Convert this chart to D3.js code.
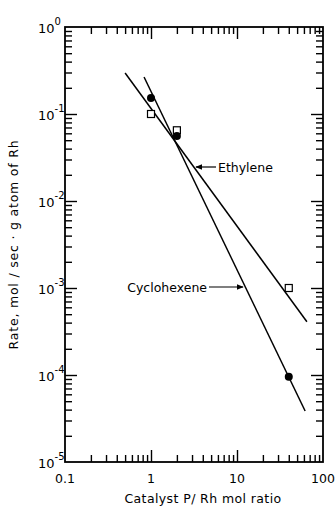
<!DOCTYPE html>
<html>
<head>
<meta charset="utf-8">
<script src="https://cdn.jsdelivr.net/npm/d3@7"></script>
<style>
  body { margin: 0; background: #fff; }
  svg { display: block; font-family: 'DejaVu Sans', sans-serif; }
</style>
</head>
<body>
<div id="chart"></div>
<script>
// data
const ratioCyclohexene = [1, 2, 40];
const rateCyclohexene = [0.153, 0.056, 0.0000955];
const ratioEthylene = [1, 2, 40];
const rateEthylene = [0.1, 0.065, 0.001];
// fitted lines (end points)
const lineEthyleneX = [0.5, 65];
const lineEthyleneY = [0.296, 0.00041];
const lineCyclohexeneX = [0.83, 62];
const lineCyclohexeneY = [0.266, 0.0000386];
const xDecades = [0.1, 1, 10, 100];
const xTickLabels = ['0.1', '1', '10', '100'];
const yDecades = [1, 0.1, 0.01, 0.001, 0.0001, 0.00001];
const yExponents = ['0', '-1', '-2', '-3', '-4', '-5'];

const width = 336, height = 510;
const plotL = 65, plotR = 323, plotT = 27, plotB = 462;

const svg = d3.select('#chart').append('svg').attr('width', width).attr('height', height);
const x = d3.scaleLog().domain([0.1, 100]).range([plotL, plotR]);
const y = d3.scaleLog().domain([0.00001, 1]).range([plotB, plotT]);

const minorX = [];
for (let d = 0; d < 3; d += 1) for (let k = 2; k <= 9; k += 1) minorX.push(k * Math.pow(10, d - 1));
const minorY = [];
for (let d = 0; d < 5; d += 1) for (let k = 2; k <= 9; k += 1) minorY.push(k * Math.pow(10, d - 5));
const innerX = xDecades.slice(1, 3);
const innerY = yDecades.slice(1, 5);

function addAxis(axis, tx, ty) {
  const g = svg.append('g').attr('transform', 'translate(' + tx + ',' + ty + ')').call(axis);
  g.select('.domain').remove();
  g.selectAll('text').remove();
  g.selectAll('line').attr('stroke', '#000').attr('stroke-width', 1.4);
}
// inward ticks on all four sides
addAxis(d3.axisBottom(x).tickValues(minorX).tickSize(-7), 0, plotB);
addAxis(d3.axisBottom(x).tickValues(innerX).tickSize(-12), 0, plotB);
addAxis(d3.axisTop(x).tickValues(minorX).tickSize(-7), 0, plotT);
addAxis(d3.axisTop(x).tickValues(innerX).tickSize(-12), 0, plotT);
addAxis(d3.axisLeft(y).tickValues(minorY).tickSize(-7), plotL, 0);
addAxis(d3.axisLeft(y).tickValues(innerY).tickSize(-12), plotL, 0);
addAxis(d3.axisRight(y).tickValues(minorY).tickSize(-7), plotR, 0);
addAxis(d3.axisRight(y).tickValues(innerY).tickSize(-12), plotR, 0);

svg.append('rect').attr('x', plotL).attr('y', plotT).attr('width', plotR - plotL).attr('height', plotB - plotT)
  .attr('fill', 'none').attr('stroke', '#000').attr('stroke-width', 1.8);

// tick labels
svg.selectAll('.xl').data(xDecades).enter().append('text')
  .attr('x', d => x(d)).attr('y', plotB + 21).attr('text-anchor', 'middle')
  .attr('font-size', 12.5).text((d, i) => xTickLabels[i]);
const yl = svg.selectAll('.yl').data(yDecades).enter().append('text')
  .attr('x', 38).attr('y', d => y(d) + 6).attr('font-size', 13);
yl.append('tspan').text('10');
yl.append('tspan').attr('dy', -8).attr('font-size', 10).text((d, i) => yExponents[i]);

// axis titles
svg.append('text').attr('x', 203).attr('y', 503).attr('text-anchor', 'middle').attr('font-size', 12.5)
  .attr('letter-spacing', 0.4).text('Catalyst P/ Rh mol ratio');
svg.append('text').attr('transform', 'translate(18,' + ((plotT + plotB) / 2) + ') rotate(-90)')
  .attr('text-anchor', 'middle').attr('font-size', 12.5).attr('letter-spacing', 0.8)
  .text('Rate, mol / sec · g atom of Rh');

// fitted lines
const line = d3.line().x(d => x(d[0])).y(d => y(d[1]));
svg.append('path').attr('d', line(d3.zip(lineEthyleneX, lineEthyleneY)))
  .attr('fill', 'none').attr('stroke', '#000').attr('stroke-width', 1.5);
svg.append('path').attr('d', line(d3.zip(lineCyclohexeneX, lineCyclohexeneY)))
  .attr('fill', 'none').attr('stroke', '#000').attr('stroke-width', 1.5);

// markers
svg.selectAll('.sq').data(d3.zip(ratioEthylene, rateEthylene)).enter().append('rect')
  .attr('x', d => x(d[0]) - 3.5).attr('y', d => y(d[1]) - 3.5).attr('width', 7).attr('height', 7)
  .attr('fill', '#fff').attr('stroke', '#000').attr('stroke-width', 1.2);
svg.selectAll('.dot').data(d3.zip(ratioCyclohexene, rateCyclohexene)).enter().append('circle')
  .attr('cx', d => x(d[0])).attr('cy', d => y(d[1])).attr('r', 4).attr('fill', '#000');

// annotations with arrows
svg.append('defs').append('marker').attr('id', 'arr').attr('viewBox', '0 0 10 10')
  .attr('refX', 9).attr('refY', 5).attr('markerWidth', 6).attr('markerHeight', 6).attr('orient', 'auto')
  .append('path').attr('d', 'M0,1 L10,5 L0,9 z').attr('fill', '#000');
svg.append('line').attr('x1', 216).attr('y1', 167).attr('x2', 196).attr('y2', 167)
  .attr('stroke', '#000').attr('stroke-width', 1.2).attr('marker-end', 'url(#arr)');
svg.append('text').attr('x', 218).attr('y', 171.5).attr('font-size', 12.5).text('Ethylene');
svg.append('line').attr('x1', 209).attr('y1', 287).attr('x2', 243).attr('y2', 287)
  .attr('stroke', '#000').attr('stroke-width', 1.2).attr('marker-end', 'url(#arr)');
svg.append('text').attr('x', 207).attr('y', 291.5).attr('text-anchor', 'end').attr('font-size', 12.5).text('Cyclohexene');
</script>
</body>
</html>
